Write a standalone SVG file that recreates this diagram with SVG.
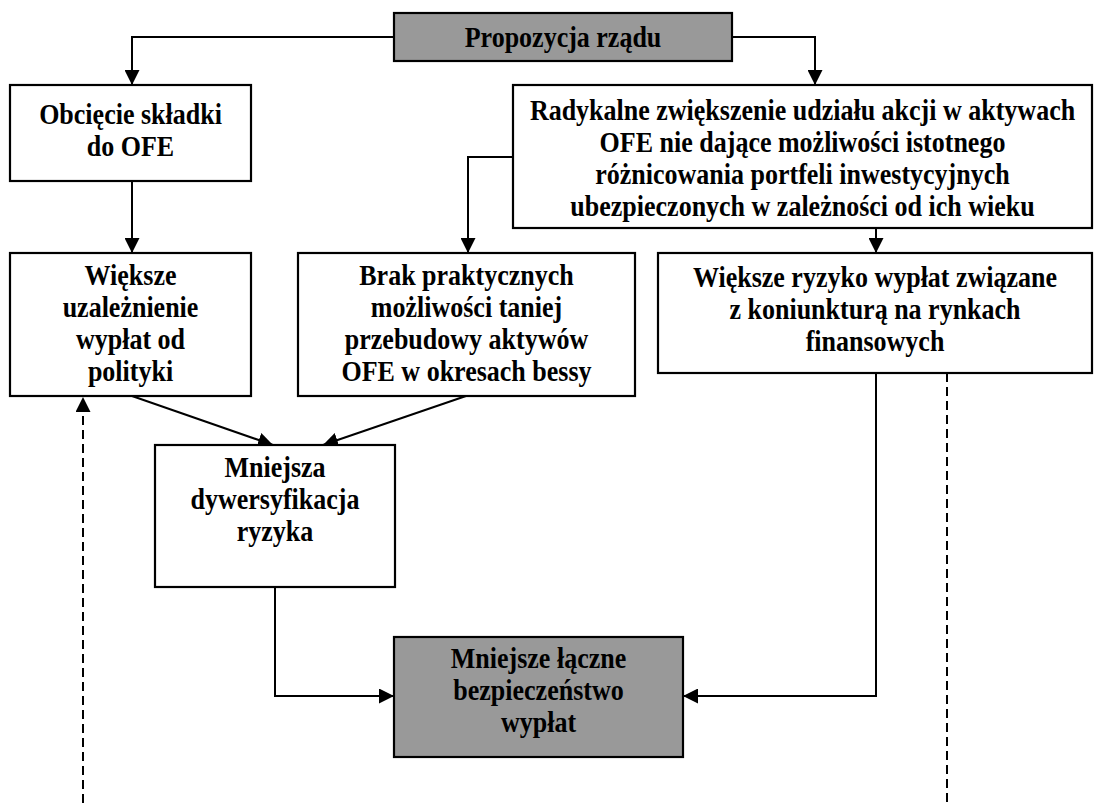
<svg xmlns="http://www.w3.org/2000/svg" width="1102" height="803" viewBox="0 0 1102 803">
<style>
  .box { fill: #ffffff; stroke: #000000; stroke-width: 2.2; }
  .gray { fill: #999999; stroke: #000000; stroke-width: 2.2; }
  .t { font-family: "Liberation Serif", "Times New Roman", serif; font-weight: bold; font-size: 26px; fill: #000000; text-anchor: middle; }
  .c { fill: none; stroke: #000000; stroke-width: 2; }
  .d { fill: none; stroke: #000000; stroke-width: 2; stroke-dasharray: 9 5; }
</style>
<defs>
  <marker id="ah" markerUnits="userSpaceOnUse" markerWidth="15" markerHeight="15" refX="15" refY="7.5" orient="auto">
    <path d="M0,0 L15,7.5 L0,15 z" fill="#000000"/>
  </marker>
</defs>
<rect width="1102" height="803" fill="#ffffff"/>

<g id="connectors">
  <polyline class="c" points="394,37 132,37 132,85" marker-end="url(#ah)"/>
  <polyline class="c" points="732,37 815,37 815,85" marker-end="url(#ah)"/>
  <polyline class="c" points="132,181 132,253" marker-end="url(#ah)"/>
  <polyline class="c" points="513,157 468,157 468,253" marker-end="url(#ah)"/>
  <polyline class="c" points="876,228 876,253" marker-end="url(#ah)"/>
  <polyline class="c" points="132,396 273,445" marker-end="url(#ah)"/>
  <polyline class="c" points="466,396 323,445" marker-end="url(#ah)"/>
  <polyline class="c" points="275,587 275,696 394,696" marker-end="url(#ah)"/>
  <polyline class="c" points="876,373 876,696 683,696" marker-end="url(#ah)"/>
  <polyline class="d" points="83,803 83,397" marker-end="url(#ah)"/>
  <polyline class="d" points="947,373 947,803"/>
</g>

<g id="n-propozycja">
  <rect class="gray" x="394" y="13" width="338" height="48"/>
  <text class="t" transform="translate(563,47) scale(1,1.1)">Propozycja rządu</text>
</g>

<g id="n-obciecie">
  <rect class="box" x="10" y="85" width="241" height="96"/>
  <text class="t" transform="translate(130.5,124) scale(1,1.1)">Obcięcie składki</text>
  <text class="t" transform="translate(130.5,156) scale(1,1.1)">do OFE</text>
</g>

<g id="n-radykalne">
  <rect class="box" x="513" y="85" width="579" height="143"/>
  <text class="t" transform="translate(802.5,120) scale(1,1.1)">Radykalne zwiększenie udziału akcji w aktywach</text>
  <text class="t" transform="translate(802.5,152) scale(1,1.1)">OFE nie dające możliwości istotnego</text>
  <text class="t" transform="translate(802.5,184) scale(1,1.1)">różnicowania portfeli inwestycyjnych</text>
  <text class="t" transform="translate(802.5,216) scale(1,1.1)">ubezpieczonych w zależności od ich wieku</text>
</g>

<g id="n-uzaleznienie">
  <rect class="box" x="10" y="253" width="241" height="143"/>
  <text class="t" transform="translate(130.5,285) scale(1,1.1)">Większe</text>
  <text class="t" transform="translate(130.5,317) scale(1,1.1)">uzależnienie</text>
  <text class="t" transform="translate(130.5,349) scale(1,1.1)">wypłat od</text>
  <text class="t" transform="translate(130.5,381) scale(1,1.1)">polityki</text>
</g>

<g id="n-brak">
  <rect class="box" x="298" y="253" width="337" height="143"/>
  <text class="t" transform="translate(466.5,285) scale(1,1.1)">Brak praktycznych</text>
  <text class="t" transform="translate(466.5,317) scale(1,1.1)">możliwości taniej</text>
  <text class="t" transform="translate(466.5,349) scale(1,1.1)">przebudowy aktywów</text>
  <text class="t" transform="translate(466.5,381) scale(1,1.1)">OFE w okresach bessy</text>
</g>

<g id="n-ryzyko">
  <rect class="box" x="658" y="253" width="434" height="120"/>
  <text class="t" transform="translate(875,287) scale(1,1.1)">Większe ryzyko wypłat związane</text>
  <text class="t" transform="translate(875,319) scale(1,1.1)">z koniunkturą na rynkach</text>
  <text class="t" transform="translate(875,351) scale(1,1.1)">finansowych</text>
</g>

<g id="n-dywersyfikacja">
  <rect class="box" x="155" y="445" width="240" height="142"/>
  <text class="t" transform="translate(275,477) scale(1,1.1)">Mniejsza</text>
  <text class="t" transform="translate(275,509) scale(1,1.1)">dywersyfikacja</text>
  <text class="t" transform="translate(275,541) scale(1,1.1)">ryzyka</text>
</g>

<g id="n-bezpieczenstwo">
  <rect class="gray" x="394" y="637" width="289" height="120"/>
  <text class="t" transform="translate(538.5,668) scale(1,1.1)">Mniejsze łączne</text>
  <text class="t" transform="translate(538.5,700) scale(1,1.1)">bezpieczeństwo</text>
  <text class="t" transform="translate(538.5,732) scale(1,1.1)">wypłat</text>
</g>
</svg>
